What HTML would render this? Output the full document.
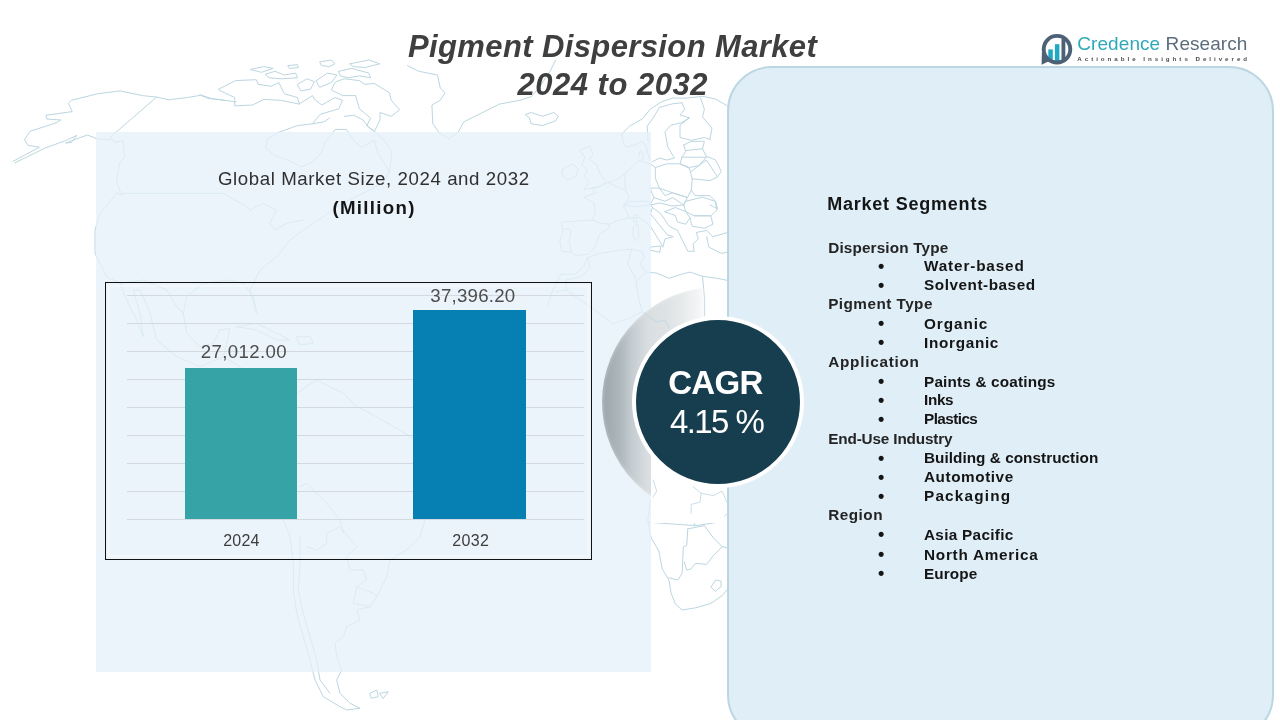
<!DOCTYPE html>
<html lang="en">
<head>
<meta charset="utf-8">
<title>Pigment Dispersion Market 2024 to 2032</title>
<style>
  html, body { margin: 0; padding: 0; }
  body { width: 1280px; height: 720px; overflow: hidden; background: #ffffff;
         font-family: "Liberation Sans", sans-serif; position: relative; }
  .abs { position: absolute; }
  .t { position: absolute; white-space: nowrap; line-height: 1; margin: 0; }
  #map { position: absolute; left: 0; top: 0; width: 1280px; height: 720px; }
  #leftpanel { left: 96px; top: 132px; width: 555px; height: 540px; background: rgba(228,240,250,0.75); }
  #rightpanel { left: 727px; top: 66px; width: 543px; height: 670px; background: #dfeef7;
                border: 2px solid #bcd6e2; border-radius: 45px; }
  #chart { left: 105px; top: 282px; width: 487px; height: 278px; border: 1px solid #111; box-sizing: border-box; }
  .grid { position: absolute; left: 127px; width: 457px; height: 1px; background: #d3d9de; }
  .bar { position: absolute; }
  #title1, #title2 { font-weight: bold; font-style: italic; color: #3f3f3f; font-size: 31px; }
  .seg { font-weight: bold; color: #151515; font-size: 15.3px; }
  .hdr { font-weight: bold; color: #242424; font-size: 15.3px; }
  .bul { font-weight: bold; color: #151515; font-size: 18px; }
</style>
</head>
<body>
<svg id="map" viewBox="0 0 1280 720"><path d="M13.1 161.3 L39.4 147.2 L28.1 145.3 L24.4 139.7 L30 131.3 L56.3 122.8 L60.9 120 L46.9 119 L45.9 115.3 L72.2 111.6 L68.4 103.1 L71.3 100.3 L97.5 93.8 L120 90.9 L142.5 95.6 L156.6 97.1 L110.6 136.9 M15 162.8 L45 148.1 L65.6 140.6 L76.9 135.4 L71.3 142.5 L65.6 143 L87.2 135 L97.5 138.8 L110.6 139.7 M156.6 97.1 L168.8 99.8 L187.5 97.5 L200.6 95.3 L208.1 98.4 L225 100.3 L236 102 M110.6 136.9 L114.4 142.5 L122.8 140.6 L124.7 157.5 L120 162.2 L116.3 180 L120 191 L123 195 M218.8 89.1 L235.6 80.6 L256.3 79.7 L258.1 84.4 L271.3 86.3 L278.8 82.5 L284.4 93.8 L297.5 97.5 L299.4 104.1 L280.6 100.3 L263.8 99.4 L252.5 105 L234.7 105.9 L234.7 97.5 L220.6 90.9Z M250.6 69.4 L263.8 66.6 L273.1 68.4 L261.9 72.2Z M265.6 74.1 L275 71.3 L284.4 75 L295.6 73.1 L297.5 77.8 L280.6 78.8 L269.4 77.8Z M288.1 65.6 L297.5 64.7 L298.4 67.5 L290 68.4Z M200 94.7 L211 98.4 L224 100.3 M344.4 78.8 L359.4 80.6 L365 84.4 L374.4 83.4 L389.4 92.8 L391.3 100.3 L399.7 109.7 L391.3 116.3 L380 112.5 L380 120 L374.4 131.3 L366.9 125.6 L370.6 118.1 L359.4 108.8 L355.6 95.6 L342.5 95.6 L331.3 90 L335 82.5Z M320 61.9 L331.3 60 L335 63.8 L329.4 66.6 L321.9 65.6Z M338.8 71.3 L351.9 68.4 L368.8 73.1 L370.6 77.8 L359.4 75.9 L348.1 77.8 L340.6 75.9Z M316.3 80.6 L327.5 73.1 L336.9 75 L331.3 82.5 L320 87.2Z M297.5 84.4 L306.9 78.8 L314.4 81.6 L310.6 89.1 L301.3 90.9Z M350 63.8 L368.8 60 L380 63.8 L365 67.5 L353.8 66.6Z M299 104 L312.5 95.6 L314.4 99.4 L321.9 105 L335 97.5 L342.5 100.3 L338.8 108.8 L320 114.4 L312.5 123.8 L323.8 121.9 L329.4 118.1 M312.5 123.8 L297.5 125.6 L278.8 132.2 L267.5 138.8 L265.6 148.1 L275 155.6 L288.1 160.3 L301.3 166.9 L312.5 162.2 L321.9 151.9 L324.7 142.5 L331.3 135 L335 129.4 L346.3 129.4 L355.6 142.5 L361.3 147.2 L374.4 140.6 L378.1 153.8 L385.6 165 L389.4 172.5 L383 182 L370 190 L355 197 L337 206.7 M344.4 116.3 L353.8 115.3 L363.1 120 L368.8 127.5 L374.4 131.3 L384 140 L392 152 L389.4 172.5 M407.5 65.6 L418.8 71.3 L437.5 75 L440.3 88.1 L445 92.8 L440.3 100.3 L431.9 105 L432.8 123.8 L439.4 133.1 L448.8 138.8 L458.1 132.2 L463.8 121.9 L478.8 114.4 L499.4 104.1 L520 100.3 L531.3 96.6 L538.8 88.1 L550 71.3 L555.6 60 M525.6 114.4 L531.3 112.5 L542.5 116.3 L553.8 112.5 L558.4 116.3 L555.6 120.9 L542.5 125.6 L531.3 123.8 L529.4 118.1Z M580 150 L589.4 146.3 L593.1 153.8 L589.4 159.4 L596.9 165 L600.6 174.4 L606.3 181.9 L598.8 187.5 L583.8 189.4 L589.4 181.9 L583.8 176.3 L587.5 170.6 L581.9 165 L584.7 157.5Z M563.1 168.8 L572.5 164.1 L578.1 168.8 L576.3 176.3 L566.9 180 L562.2 174.4Z M621.9 133.8 L629.4 126.3 L642.5 118.8 L650 109.4 L661.3 101.9 L672.5 98.1 L687.5 98.1 L702.5 96.3 L715.6 99.1 L726.9 105.6 M621.9 133.8 L622.8 141.3 L625.6 146.9 L635 145 L642.5 141.3 L646.3 146.9 L648.1 154.4 L650 160 M648.1 141.3 L647.2 126.3 L653.8 116.9 L659.4 107.5 L672.5 103.8 L681.9 102.8 M681.9 102.8 L684.7 109.4 L680 115 L689.4 117.8 L681.9 122.5 L670.6 125.3 L665 131.9 L667.8 146.9 L674.4 158.1 L666.9 160 L659.4 158.1 L651.9 161.9 M689.4 117.8 L680 125.3 L680 137.5 L691.3 140.3 L704.4 137.5 L710 139.4 M700.6 98.1 L704.4 109.4 L702.5 116.9 L711.9 128.1 L710 139.4 M683.8 145 L691.3 141.3 L704.4 141.3 L702.5 148.8 L706.3 156.3 L715.6 160 L721.3 171.3 L717.5 176.9 M685.6 150.6 L702.5 148.8 M681.9 157.2 L706.3 157.2 M683.8 145 L685.6 151.6 L681.9 157.2 L680 163.8 L689.4 167.5 L698.8 165.6 L706.3 157.2 M655.6 167.5 L666.9 163.8 L680 163.8 L689.4 168.4 L692.2 178.8 L691.3 190 L687.5 197.5 L672.5 192.8 L659.4 188.1 L655.6 178.8Z M691.3 171.3 L706.3 160 L717.5 176.9 L710 180.6 L692.2 178.8 M691.3 190 L695 195.6 L710 195.6 L715.6 201.3 L717.5 208.8 L710 205 M650 188.1 L659.4 188.1 L665 195.6 L672.5 192.8 L687.5 197.5 L683.8 205 L672.5 197.5 L665 201.3 L653.8 197.5 L650 188.1 M638.8 156.3 L640.6 150.6 L643.4 154.4 L642.5 160 M608.8 182.5 L618.1 178.8 L625.6 173.1 L633.1 165.6 L638.8 160 L642.5 161.9 L650 163.8 L655.6 167.5 M625.6 190 L629.4 197.5 L623.8 205 L635 206.9 L650 205 L653.8 197.5 M625.6 173.1 L624.7 182.5 L625.6 190 L615 186 L608.8 182.5 M561.9 222.1 L592.1 220 L600.4 223.1 L609.8 224.2 L608.8 228.3 L599.4 234.6 L595.2 247.1 L587.9 254.4 L575.4 255.4 L571.3 252.3 L561.9 251.3 L559.8 240.8 L562.9 232.5Z M571.3 252.3 L569.2 240.8 L571.3 230.4 L564 228.3 M608.8 182.5 L600 186 L592 188 L596 193 L583.8 197.1 L594.2 203.3 L595.2 213.8 L592.1 220 M609.8 224.2 L619.2 220 L629.6 217.9 M629.6 217.9 L623.3 205.4 L631.7 201.3 L648.3 201.3 L652.5 207.5 L650.4 213.8 L658.8 224.2 L667.1 234.6 L673.3 236.7 L665 238.8 L662.9 247.1 L658.8 239.8 L650.4 226.3 L640 217.9Z M650.4 247.1 L660.8 246 L659.8 252.3 L650.4 250.2Z M633.8 226.3 L637.9 224.2 L639 236.7 L634.8 240.8 L632.7 234.6Z M633.8 215.8 L636.9 214.8 L636.9 222.1 L634.2 222.1Z M652.5 207.5 L660.8 213.8 L669.2 226.3 L677.5 230.4 L683.8 242.9 L687.9 251.3 L694.2 251.3 L693.1 244 L698.3 238.8 L696.3 232.5 L706.7 230.4 L712.9 236.7 L727.5 232.5 M706.7 236.7 L708.8 247.1 L721.3 253.3 L727.5 252.3 M665 211.7 L675.4 207.5 L685.8 211.7 L690 217.9 L685.8 224.2 L677.5 222.1 L675.4 215.8Z M685.8 201.3 L702.5 197.1 L715 201.3 L717.1 209.6 L710.8 215.8 L694.2 215.8 L685.8 211.7 L683.8 205.4Z M694.2 215.8 L710.8 215.8 L712.9 224.2 L704.6 228.3 L692.1 226.3 L690 217.9 M650 205 L660 203 L672 206 L683.8 205 M587.9 257.5 L600.4 253.3 L619.2 250.2 L631.7 249.2 L642.1 251.3 L644.2 257.5 L640 263.8 L646.3 272.1 L656.7 273.1 L669.2 278.3 L681.7 274.2 L690 272.1 L702.5 276.3 L717.1 278.3 L727.5 280.4 M587.9 257.5 L583.8 265.8 L575.4 274.2 L560.8 274.2 L556.7 282.5 L552 292 L548 305 M631.7 249.2 L627.5 263.8 L635.8 278.3 L637.9 295 L642.1 311.7 L656.7 322.1 L665 320 L669.2 328.3 M646.3 272.1 L637.9 280.4 M702.5 276.3 L704.6 299.2 L704.6 315.8 M587.9 257.5 L590 267.9 L581.7 276.3 L566 280 L566 290 L556 292 M566 290 L592.1 308 L612.9 324 L630 318 L642.1 311.7 M653.3 480 L656.7 491.1 L650 502.2 L647.8 520 L651.1 537.8 L658.9 551.1 L662.2 568.9 L668.9 580 L671.1 593.3 L675.6 604.4 L682.2 610 L695.6 607.8 L711.1 603.3 L722.2 595.6 L727.8 588.9 M647.8 522.2 L677.8 524.4 L695.6 525.6 L704.4 524.4 M687.8 528.9 L686.7 545.6 L683.3 546.7 L682.2 573.3 L677.8 580 L668.9 577.8 M687.8 528.9 L704.4 525.6 L713.3 537.8 L722.2 546.7 L713.3 555.6 L706.7 564.4 L695.6 563.3 L691.1 568.9 L686.7 570 L684.4 562.2 M693.3 486.7 L701.1 493.3 L700 502.2 L691.1 504.4 L691.1 517.8 L695.6 525.6 M701.1 493.3 L713.3 495.6 L722.2 491.1 L726.7 502.2 M704.4 524.4 L717.8 522.2 L727.8 513.3 M722.2 546.7 L727.8 547.8 M711.1 586.7 L715.6 580 L721.1 581.1 L721.1 586.7 L715.6 591.1Z M283.3 400 L272 418 L263 448 L268 480 L283.3 520 L290 536.7 L293.3 563.3 L293.3 590 L296.7 613.3 L303.3 636.7 L310 660 L315 680 L323.3 696.7 L340 706.7 L346.7 710 L360 708.3 L350 703.3 L340 693.3 L336.7 680 L341.7 670 L336.7 656.7 L335 643.3 L343.3 636.7 L346.7 626.7 L360 620 L356.7 610 L370 606.7 L376.7 596.7 L386.7 576.7 L390 560 L406.7 550 L420 536.7 L425 520 L440 500 L446 472 L430 450 L400 430 L370 413.3 M300 536.7 L300 563.3 L298.3 590 L303.3 613.3 L310 636.7 L316.7 660 L320 680 L330 693.3 M326.7 533.3 L340 526.7 L356.7 546.7 L346.7 556.7 L350 570 L363.3 570 L366.7 580 L356.7 586.7 L353.3 603.3 L370 606.7 M356.7 586.7 L373.3 593.3 L376.7 596.7 M300 486.7 L306.7 483.3 L326.7 503.3 L340 520 L343.3 533.3 M306.7 546.7 L316.7 550 L326.7 543.3 L326.7 533.3 M370 693.3 L376.7 690 L378.3 696.7 L371.7 698.3Z M380 693.3 L388.3 691.7 L383.3 698.3Z M123 195 L117 193 L100 213.3 L95 230 L95 253.3 L106.7 276.7 L120 283.3 L126.7 300 L136.7 320 L143.3 336.7 L140 313.3 L133.3 290 L140 290 L150 313.3 L156.7 340 L176.7 356.7 L200 366.7 L223.3 356.7 L240 366.7 L250 380 L263.3 393.3 L283.3 400 L296.7 393.3 L316.7 380 L330 386.7 L343.3 393.3 L356.7 406.7 L370 413.3 M120 283.3 L143.3 280 L166.7 290 L176.7 306.7 L183.3 313.3 M183.3 313.3 L186.7 296.7 L203.3 283.3 L230 280 L243.3 283.3 L253.3 296.7 L256.7 313.3 L250 290 L260 270 L276.7 256.7 L290 240 L303.3 230 L323.3 216.7 L336.7 206.7 M183.3 313.3 L186.7 333.3 L200 346.7 L213.3 343.3 L220 330 L230 328.3 L226.7 343.3 L223.3 356.7 M236.7 326.7 L256.7 323.3 L276.7 333.3 L290 340 L276.7 340 L256.7 330Z M296.7 336.7 L310 336.7 L313.3 343.3 L300 345Z M250 210 L263.3 203.3 L276.7 210 L270 223.3 L275 230 L286.7 223.3 L303.3 220 M123.3 193.3 L223.3 193.3 L246.7 206.7 L250 210" fill="none" stroke="#bcd6e1" stroke-width="1" stroke-linejoin="round" stroke-linecap="round"/></svg>

<div class="abs" id="leftpanel"></div>

<!-- crescent shadow + CAGR circle -->
<div class="abs" id="crescent" style="left:602px;top:287px;width:230px;height:230px;border-radius:50%;background:radial-gradient(circle closest-side at 50% 50%,rgba(255,255,255,0) 97%,rgba(255,255,255,0.18) 100%),linear-gradient(to right,#9faab0 0%,#9ea9af 1.5%,#adb7bc 7.8%,#c6ced2 13.5%,#d9dee1 20%,#dee2e4 27.4%,#e7eaeb 34.8%,#f3f4f5 41.7%,#ffffff 45.5%);"></div>
<div class="abs" id="cresmask" style="left:651px;top:448px;width:80px;height:75px;background:#ffffff;"></div>
<svg class="abs" id="map2" style="left:0;top:0" width="1280" height="720" viewBox="0 0 1280 720"><defs><clipPath id="cc"><circle cx="717" cy="402" r="115"/></clipPath></defs><path clip-path="url(#cc)" opacity="0.8" d="M631.7 249.2 L627.5 263.8 L635.8 278.3 L637.9 295 L642.1 311.7 L656.7 322.1 L665 320 L669.2 328.3 M702.5 276.3 L704.6 299.2 L704.6 315.8 M566 290 L592.1 308 L612.9 324 L630 318 L642.1 311.7 M653.3 480 L656.7 491.1 L650 502.2 L647.8 520 L651.1 537.8 L658.9 551.1 L662.2 568.9 L668.9 580 L671.1 593.3 L675.6 604.4 L682.2 610 L695.6 607.8 L711.1 603.3 L722.2 595.6 L727.8 588.9 M693.3 486.7 L701.1 493.3 L700 502.2 L691.1 504.4 L691.1 517.8 L695.6 525.6 M701.1 493.3 L713.3 495.6 L722.2 491.1 L726.7 502.2 M704.4 524.4 L717.8 522.2 L727.8 513.3" fill="none" stroke="#bcd6e1" stroke-width="1" stroke-linejoin="round" stroke-linecap="round"/></svg>

<div class="abs" id="rightpanel"></div>

<div class="abs" id="cagr" style="left:631.5px;top:316px;width:164px;height:164px;border-radius:50%;background:#173e4f;border:4px solid #ffffff;box-sizing:content-box;"></div>
<div class="t" id="cagr1" style="left:668.2px;top:366.1px;font-size:33px;font-weight:bold;color:#fff;letter-spacing:-0.71px;">CAGR</div>
<div class="t" id="cagr2" style="left:670.0px;top:405.3px;font-size:33px;color:#fff;letter-spacing:-1.60px;">4.15 %</div>

<!-- title -->
<div class="t" id="title1" style="left:408.0px;top:31.4px;letter-spacing:0.38px;">Pigment Dispersion Market</div>
<div class="t" id="title2" style="left:517.5px;top:69.4px;letter-spacing:0.50px;">2024 to 2032</div>

<!-- chart -->
<div class="t" id="ct1" style="left:218.0px;top:169.5px;font-size:18.67px;color:#303030;letter-spacing:0.58px;">Global Market Size, 2024 and 2032</div>
<div class="t" id="ct2" style="left:332.4px;top:199.2px;font-size:18.67px;font-weight:bold;color:#151515;letter-spacing:1.32px;">(Million)</div>
<div class="abs" id="chart"></div>
<div class="abs" id="chartin" style="left:108px;top:285px;width:477px;height:268px;border:2px solid rgba(255,255,255,0.4);"></div>
<div class="grid" style="top:295px"></div>
<div class="grid" style="top:323px"></div>
<div class="grid" style="top:351px"></div>
<div class="grid" style="top:379px"></div>
<div class="grid" style="top:407px"></div>
<div class="grid" style="top:435px"></div>
<div class="grid" style="top:463px"></div>
<div class="grid" style="top:491px"></div>
<div class="grid" style="top:519px"></div>
<div class="bar" id="bar1" style="left:185px;top:368px;width:112px;height:151px;background:#36a3a6;"></div>
<div class="bar" id="bar2" style="left:413px;top:310px;width:113px;height:209px;background:#0680b3;"></div>
<div class="t" id="v1" style="left:200.8px;top:343px;font-size:18.67px;color:#4d4d4d;letter-spacing:0.35px;">27,012.00</div>
<div class="t" id="v2" style="left:430.3px;top:287px;font-size:18.67px;color:#4d4d4d;letter-spacing:0.24px;">37,396.20</div>
<div class="t" id="x1" style="left:223.2px;top:532.6px;font-size:16px;color:#3d3d3d;letter-spacing:0.23px;">2024</div>
<div class="t" id="x2" style="left:452.2px;top:532.6px;font-size:16px;color:#3d3d3d;letter-spacing:0.37px;">2032</div>

<!-- logo -->
<svg class="abs" id="logo" style="left:1036px;top:28px" width="44" height="44" viewBox="1036 28 44 44">
  <defs><clipPath id="lc"><circle cx="1057" cy="49.2" r="13.4"/></clipPath></defs>
  <g clip-path="url(#lc)">
    <rect x="1048.3" y="49.4" width="4.5" height="16" fill="#1fa9c4"/>
    <rect x="1054.9" y="44.2" width="4.5" height="22" fill="#1fa9c4"/>
    <rect x="1061.5" y="38.6" width="3.8" height="26" fill="#4d6176"/>
  </g>
  <circle cx="1057" cy="49.2" r="13.3" fill="none" stroke="#4d6176" stroke-width="3.9"/>
  <path d="M1041.9 52 L1041.6 64.8 L1050.5 60.5 Z" fill="#4d6176"/>
</svg>
<div class="t" id="lg1" style="left:1077.3px;top:34px;font-size:19px;color:#2fa9b7;letter-spacing:0.07px;">Credence <span style="color:#5b6d7d">Research</span></div>
<div class="t" id="lg2" style="left:1077.3px;top:56px;font-size:6.2px;font-weight:bold;color:#4c4c4c;letter-spacing:2.97px;">Actionable Insights Delivered</div>

<!-- segments -->
<div class="t" id="ms" style="left:827.2px;top:194.8px;font-size:18px;font-weight:bold;color:#151515;letter-spacing:0.78px;">Market Segments</div>
<div class="t hdr" id="s0" style="left:828.2px;top:239.7px;letter-spacing:0.15px;">Dispersion Type</div>
<div class="t bul" id="b1" style="left:878px;top:256.5px;">&bull;</div>
<div class="t seg" id="s1" style="left:924.0px;top:258.3px;letter-spacing:0.85px;">Water-based</div>
<div class="t bul" id="b2" style="left:878px;top:275.5px;">&bull;</div>
<div class="t seg" id="s2" style="left:924.0px;top:277.3px;letter-spacing:0.54px;">Solvent-based</div>
<div class="t hdr" id="s3" style="left:828.2px;top:296.4px;letter-spacing:0.46px;">Pigment Type</div>
<div class="t bul" id="b4" style="left:878px;top:313.8px;">&bull;</div>
<div class="t seg" id="s4" style="left:924.0px;top:315.5px;letter-spacing:0.92px;">Organic</div>
<div class="t bul" id="b5" style="left:878px;top:333.0px;">&bull;</div>
<div class="t seg" id="s5" style="left:924.0px;top:334.7px;letter-spacing:0.69px;">Inorganic</div>
<div class="t hdr" id="s6" style="left:828.2px;top:354.2px;letter-spacing:0.75px;">Application</div>
<div class="t bul" id="b7" style="left:878px;top:371.8px;">&bull;</div>
<div class="t seg" id="s7" style="left:924.0px;top:373.5px;letter-spacing:0.18px;">Paints &amp; coatings</div>
<div class="t bul" id="b8" style="left:878px;top:390.5px;">&bull;</div>
<div class="t seg" id="s8" style="left:924.0px;top:392.3px;letter-spacing:-0.33px;">Inks</div>
<div class="t bul" id="b9" style="left:878px;top:409.5px;">&bull;</div>
<div class="t seg" id="s9" style="left:924.0px;top:411.3px;letter-spacing:-0.57px;">Plastics</div>
<div class="t hdr" id="s10" style="left:828.2px;top:430.9px;letter-spacing:-0.15px;">End-Use Industry</div>
<div class="t bul" id="b11" style="left:878px;top:448.5px;">&bull;</div>
<div class="t seg" id="s11" style="left:924.0px;top:450.2px;letter-spacing:0.04px;">Building &amp; construction</div>
<div class="t bul" id="b12" style="left:878px;top:467.5px;">&bull;</div>
<div class="t seg" id="s12" style="left:924.0px;top:469.2px;letter-spacing:0.56px;">Automotive</div>
<div class="t bul" id="b13" style="left:878px;top:486.5px;">&bull;</div>
<div class="t seg" id="s13" style="left:924.0px;top:488.2px;letter-spacing:1.20px;">Packaging</div>
<div class="t hdr" id="s14" style="left:828.2px;top:507.3px;letter-spacing:0.50px;">Region</div>
<div class="t bul" id="b15" style="left:878px;top:525.4px;">&bull;</div>
<div class="t seg" id="s15" style="left:924.0px;top:527.2px;letter-spacing:0.31px;">Asia Pacific</div>
<div class="t bul" id="b16" style="left:878px;top:544.8px;">&bull;</div>
<div class="t seg" id="s16" style="left:924.0px;top:546.5px;letter-spacing:0.75px;">North America</div>
<div class="t bul" id="b17" style="left:878px;top:563.9px;">&bull;</div>
<div class="t seg" id="s17" style="left:924.0px;top:565.6px;letter-spacing:0.10px;">Europe</div>


</body>
</html>
